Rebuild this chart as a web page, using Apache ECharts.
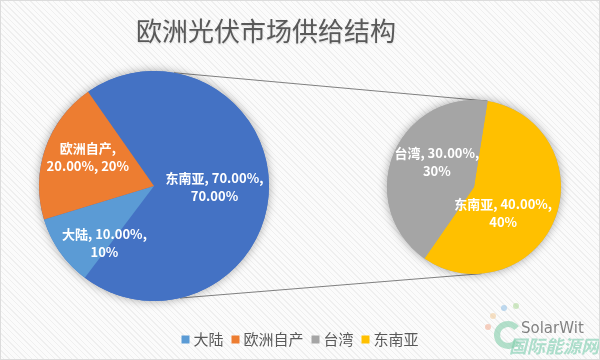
<!DOCTYPE html>
<html>
<head>
<meta charset="utf-8">
<script src="https://cdn.jsdelivr.net/npm/echarts@6/dist/echarts.min.js"></script>
<style>
  html, body { margin: 0; padding: 0; }
  #wrap { position: relative; width: 600px; height: 360px;
    background: repeating-linear-gradient(45deg, #fbfbfb 0px, #fbfbfb 3px, #efefef 3px, #efefef 4px); }
  #main { position: absolute; left: 0; top: 0; width: 600px; height: 360px; }
  #frame { position: absolute; left: 0; top: 0; width: 598px; height: 358px; border: 1px solid #dcdcdc; pointer-events: none; }
</style>
</head>
<body>
<div id="wrap"><div id="main"></div><div id="frame"></div></div>
<script>
const titleText = '欧洲光伏市场供给结构';
const leftNames = ['东南亚', '大陆', '欧洲自产'];
const leftValues = [70, 10, 20];
const rightNames = ['东南亚', '台湾'];
const rightValues = [40, 30];
const legendNames = ['大陆', '欧洲自产', '台湾', '东南亚'];

const colors = { '大陆': '#5B9BD5', '欧洲自产': '#ED7D31', '台湾': '#A5A5A5', '东南亚R': '#FFC000', '东南亚L': '#4472C4' };
const FONT = '"Noto Sans CJK SC", "Noto Sans", sans-serif';

const L = { cx: 154, cy: 186, r: 115, start: 125 };
const R = { cx: 474, cy: 187, r: 87, start: 81 };

// label nudges (layout only)
const nudge = {
  'left|大陆': [0, 22], 'left|欧洲自产': [-9, -9], 'left|东南亚': [0, 0],
  'right|台湾': [6, -8], 'right|东南亚': [-14, 9]
};

function pt(c, degFromTop) {
  const a = degFromTop * Math.PI / 180;
  return [c.cx + c.r * Math.sin(a), c.cy - c.r * Math.cos(a)];
}

function labelFmt(isLeft) {
  return function (p) {
    const v = p.value;
    const pct = v.toFixed(2) + '%';
    const tail = (isLeft && p.dataIndex === 0) ? v.toFixed(2) + '%' : v + '%';
    if (p.name.length >= 4) return p.name + ',\n' + pct + ', ' + tail;
    return p.name + ', ' + pct + ',\n' + tail;
  };
}

const labelStyle = {
  show: true, position: 'inside', color: '#ffffff', fontSize: 13, fontWeight: 'bold',
  lineHeight: 18, fontFamily: FONT, align: 'center'
};

function layoutFn(side) {
  return function (params) {
    const d = nudge[side + '|' + params.text.split(',')[0]] || [0, 0];
    return { dx: d[0], dy: d[1], hideOverlap: false };
  };
}

const chart = echarts.init(document.getElementById('main'), null, { renderer: 'canvas' });

const lt = pt(L, 10), lb = pt(L, 167), rt = pt(R, 9), rb = pt(R, 175);

chart.setOption({
  backgroundColor: 'transparent',
  animation: false,
  title: {
    text: titleText, left: 261, top: 13, textAlign: 'center',
    textStyle: { fontFamily: FONT, fontSize: 26, fontWeight: 'normal', color: '#595959',
      textShadowColor: 'rgba(0,0,0,0.15)', textShadowBlur: 2, textShadowOffsetY: 1 }
  },
  legend: {
    data: legendNames.map(n => n === '东南亚' ? { name: n, itemStyle: { color: colors['东南亚R'] } } : { name: n, itemStyle: { color: colors[n] } }),
    left: 'center', top: 327, icon: 'rect', itemWidth: 8, itemHeight: 8, itemGap: 8,
    textStyle: { fontFamily: FONT, fontSize: 15, color: '#595959', padding: [0, 0, 0, -1] },
    selectedMode: false
  },
  graphic: [
    { type: 'line', z: 1, shape: { x1: lt[0], y1: lt[1], x2: rt[0], y2: rt[1] }, style: { stroke: '#7f7f7f', lineWidth: 1 } },
    { type: 'line', z: 1, shape: { x1: lb[0], y1: lb[1], x2: rb[0], y2: rb[1] }, style: { stroke: '#7f7f7f', lineWidth: 1 } },
    { type: 'text', z: 1, left: 521, top: 322, style: { text: 'SolarWit', fill: 'rgba(90,90,90,0.75)', font: '15px "DejaVu Sans", sans-serif' } },
    { type: 'text', z: 1, left: 509, top: 337, style: { text: '国际能源网', fill: 'rgba(110,200,165,0.55)', font: 'italic bold 18px "Noto Sans CJK SC", sans-serif' } },
    { type: 'arc', z: 1, shape: { cx: 508, cy: 335, r: 11, startAngle: 0.6, endAngle: 5.6 }, style: { stroke: 'rgba(130,205,170,0.6)', lineWidth: 6, fill: null } },
    { type: 'circle', z: 1, shape: { cx: 488, cy: 327, r: 3 }, style: { fill: 'rgba(240,170,140,0.55)' } },
    { type: 'circle', z: 1, shape: { cx: 493, cy: 316, r: 3 }, style: { fill: 'rgba(240,200,150,0.55)' } },
    { type: 'circle', z: 1, shape: { cx: 504, cy: 308, r: 3 }, style: { fill: 'rgba(140,190,230,0.55)' } },
    { type: 'circle', z: 1, shape: { cx: 516, cy: 306, r: 3 }, style: { fill: 'rgba(170,215,150,0.55)' } }
  ],
  series: [
    { type: 'pie', name: 'shadowL', silent: true, z: 1, center: [L.cx, L.cy], radius: [0, L.r],
      label: { show: false }, labelLine: { show: false },
      itemStyle: { color: '#4472C4', shadowBlur: 10, shadowColor: 'rgba(0,0,0,0.35)' },
      data: [{ name: '_s1', value: 1 }] },
    { type: 'pie', name: 'shadowR', silent: true, z: 1, center: [R.cx, R.cy], radius: [0, R.r],
      label: { show: false }, labelLine: { show: false },
      itemStyle: { color: '#A5A5A5', shadowBlur: 10, shadowColor: 'rgba(0,0,0,0.35)' },
      data: [{ name: '_s2', value: 1 }] },
    { type: 'pie', name: 'left', z: 2, center: [L.cx, L.cy], radius: [0, L.r], startAngle: L.start, clockwise: true,
      avoidLabelOverlap: false, labelLayout: layoutFn('left'),
      label: Object.assign({ formatter: labelFmt(true) }, labelStyle), labelLine: { show: false },
      itemStyle: { borderWidth: 0 },
      data: leftNames.map((n, i) => ({ name: n, value: leftValues[i], itemStyle: { color: i === 0 ? colors['东南亚L'] : colors[n] } })) },
    { type: 'pie', name: 'right', z: 2, center: [R.cx, R.cy], radius: [0, R.r], startAngle: R.start, clockwise: true,
      avoidLabelOverlap: false, labelLayout: layoutFn('right'),
      label: Object.assign({ formatter: labelFmt(false) }, labelStyle), labelLine: { show: false },
      itemStyle: { borderWidth: 0 },
      data: rightNames.map((n, i) => ({ name: n, value: rightValues[i], itemStyle: { color: n === '东南亚' ? colors['东南亚R'] : colors[n] } })) }
  ]
});
</script>
</body>
</html>
